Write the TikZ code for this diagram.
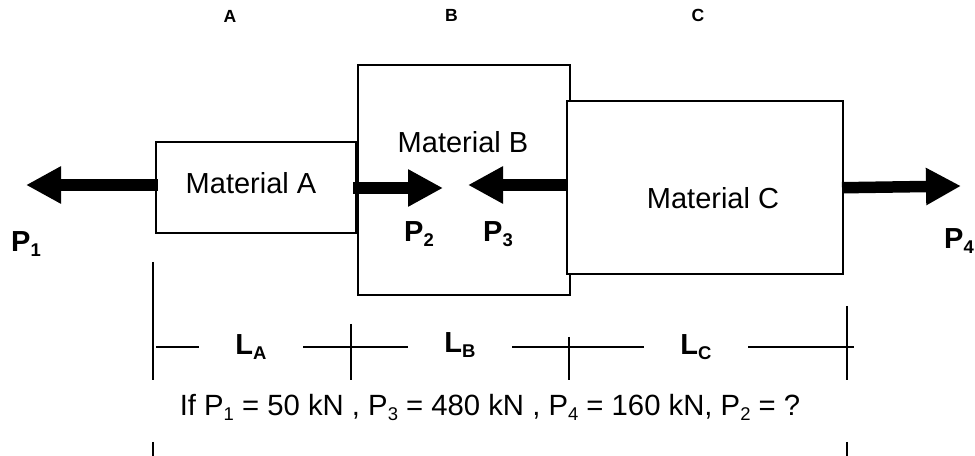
\documentclass[tikz,border=0pt]{standalone}
\usepackage{fontspec}
\setmainfont{Liberation Sans}
\usetikzlibrary{arrows.meta, positioning}
\newcommand{\lowtext}[1]{\raisebox{-2.6pt}{\fontsize{10.5}{12}\selectfont #1}}

\begin{document}
\begin{tikzpicture}[
  bar/.style={draw, line width=0.04cm, fill=white, inner sep=0pt},
  force/.style={line width=0.23cm, -{Triangle[length=0.7cm, width=0.7cm]}},
  dimline/.style={line width=0.04cm},
  matlabel/.style={font=\fontsize{16.5}{20}\selectfont},
  loadlabel/.style={font=\fontsize{16.5}{20}\selectfont\bfseries, inner sep=0pt},
  lenlabel/.style={font=\fontsize{16.5}{20}\selectfont\bfseries, inner sep=0pt, outer sep=0pt,
    minimum width=2.08cm, text height=12pt, text depth=3.5pt},
  headlabel/.style={font=\fontsize{10}{12}\selectfont\bfseries},
]
\useasboundingbox (0, 0) rectangle (19.5, 9.12);

% Section headings
\node[headlabel] (headA) at (4.6, 8.8) {A};
\node[headlabel] (headB) at (9.03, 8.82) {B};
\node[headlabel] (headC) at (13.96, 8.82) {C};

% Three bars
\node[bar, minimum width=4.01cm, minimum height=1.83cm] (barA) at (5.115, 5.365) {};
\node[bar, minimum width=4.23cm, minimum height=4.6cm] (barB) at (9.275, 5.52) {};
\node[bar, minimum width=5.53cm, minimum height=3.46cm] (barC) at (14.095, 5.37) {};

\node[matlabel] (matA) at (5.02, 5.46) {Material A};
\node[matlabel] (matB) at (9.26, 6.28) {Material B};
\node[matlabel] (matC) at (14.26, 5.16) {Material C};

% Axial loads
\coordinate (startone) at (3.16, 5.42);
\coordinate (tipone) at (0.52, 5.42);
\coordinate (starttwo) at (7.06, 5.36);
\coordinate (tiptwo) at (8.86, 5.36);
\coordinate (startthree) at (11.33, 5.42);
\coordinate (tipthree) at (9.36, 5.42);
\coordinate (startfour) at (16.84, 5.365);
\coordinate (tipfour) at (19.22, 5.40);
\draw[force] (startone) -- (tipone);
\draw[force] (starttwo) -- (tiptwo);
\draw[force] (startthree) -- (tipthree);
\draw[force] (startfour) -- (tipfour);

\node[loadlabel] (loadone) at (0.52, 4.24) {P\lowtext{1}};
\node[loadlabel] (loadtwo) at (8.38, 4.44) {P\lowtext{2}};
\node[loadlabel] (loadthree) at (9.96, 4.44) {P\lowtext{3}};
\node[loadlabel] (loadfour) at (19.18, 4.3) {P\lowtext{4}};

% Length dimensions
\coordinate (dimstart) at (3.12, 2.17);
\coordinate (dimend) at (17.08, 2.17);
\node[lenlabel] (lenA) at (5.02, 2.17) {L\lowtext{A}};
\node[lenlabel, text depth=5.8pt] (lenB) at (9.2, 2.17) {L\lowtext{B}};
\node[lenlabel] (lenC) at (13.92, 2.17) {L\lowtext{C}};
\draw[dimline] (dimstart) -- (lenA.west);
\draw[dimline] (lenA.east) -- (lenB.west);
\draw[dimline] (lenB.east) -- (lenC.west);
\draw[dimline] (lenC.east) -- (dimend);

\draw[dimline] (3.06, 3.88) -- (3.06, 1.52);
\draw[dimline] (7.01, 2.64) -- (7.01, 1.52);
\draw[dimline] (11.38, 2.38) -- (11.38, 1.52);
\draw[dimline] (16.93, 3.0) -- (16.93, 1.52);
\draw[dimline] (3.06, 0.28) -- (3.06, 0);
\draw[dimline] (16.93, 0.28) -- (16.93, 0);

% Question
\node[font=\fontsize{16.66}{20}\selectfont] (question) at (9.8, 0.97)
{If P\lowtext{1} = 50 kN , P\lowtext{3} = 480 kN , P\lowtext{4} = 160 kN, P\lowtext{2} = ?};
\end{tikzpicture}
\end{document}
